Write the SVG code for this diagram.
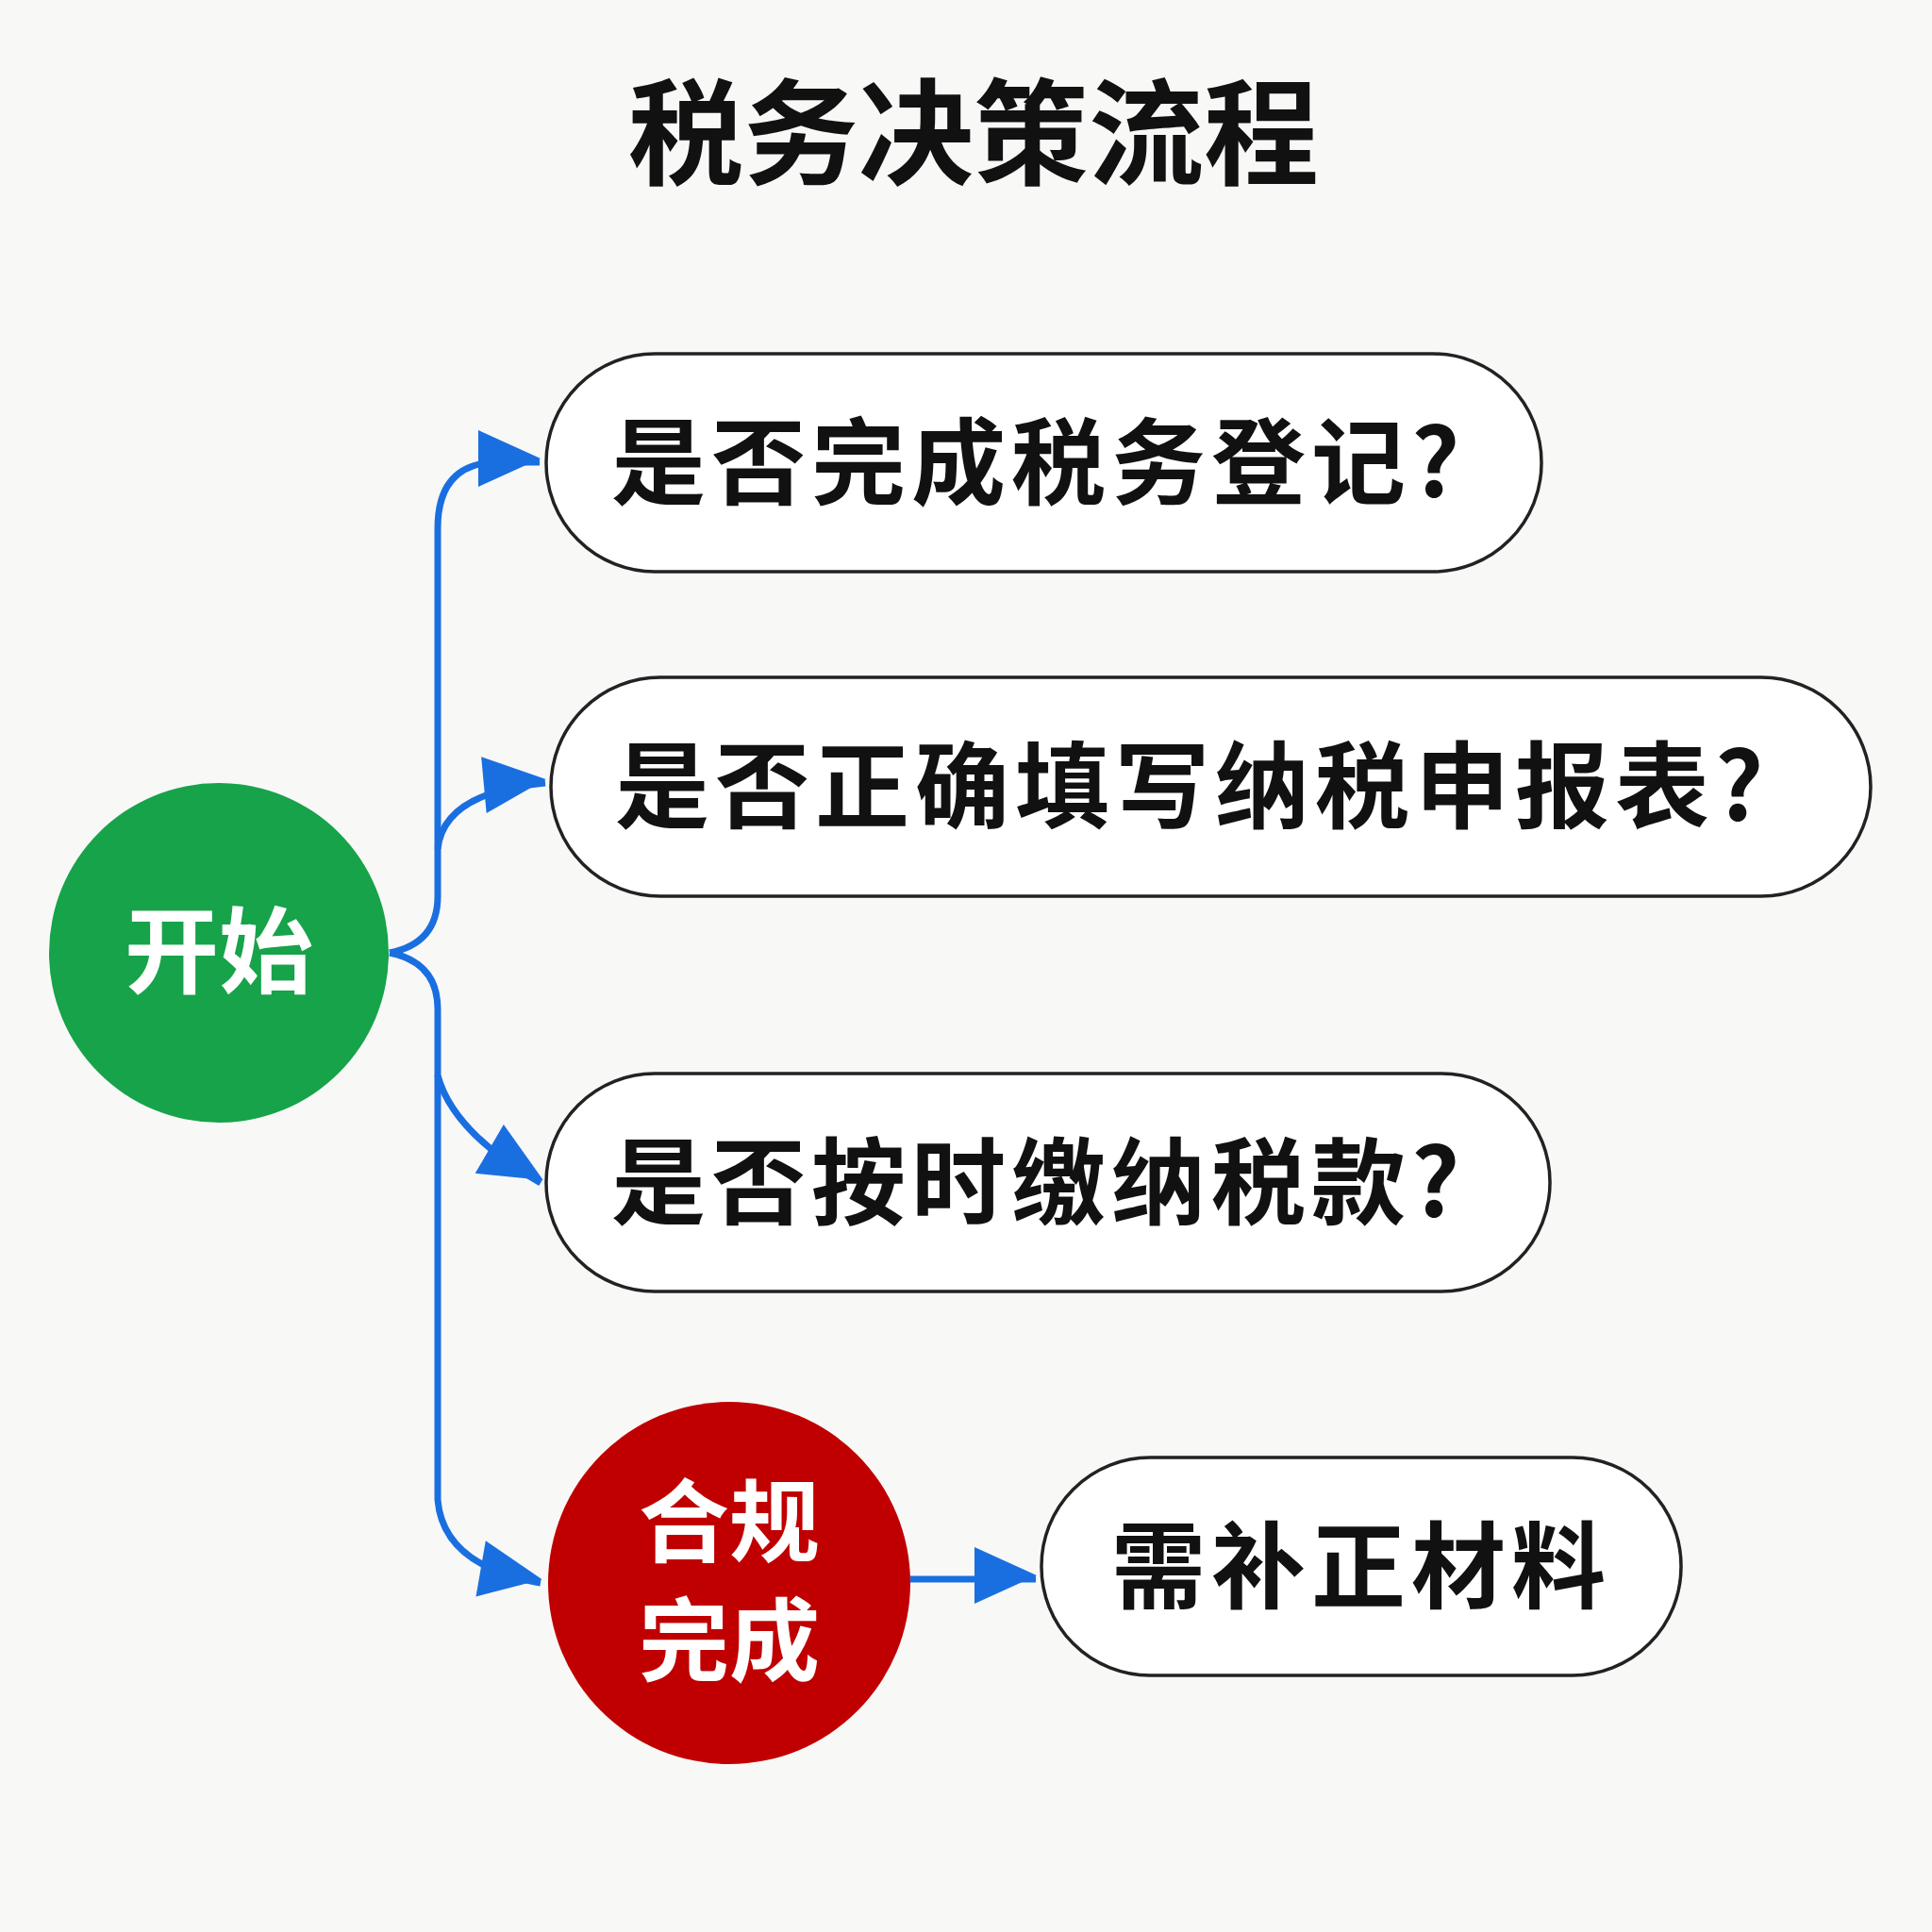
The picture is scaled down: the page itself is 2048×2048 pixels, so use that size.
<svg xmlns="http://www.w3.org/2000/svg" width="2048" height="2048" viewBox="0 0 2048 2048">
<style>
.pill{fill:#fff;stroke:#222;stroke-width:3.5}
.t{font-family:"Noto Sans CJK SC","Noto Sans",sans-serif;font-weight:bold;fill:#111}
.q{letter-spacing:6px}
.c{fill:none;stroke:#1a6fe0;stroke-width:7}
</style>
<defs><marker id="a" markerWidth="8" markerHeight="8" refX="7" refY="4" orient="auto" markerUnits="userSpaceOnUse" viewBox="0 0 8 8" style="overflow:visible"><path d="M-58,-26 L8,4 L-58,34 Z" transform="translate(0,-4)" fill="#1a6fe0"/></marker></defs>
<rect width="2048" height="2048" fill="#f8f8f7"/>
<text class="t" x="1032" y="186" font-size="122" text-anchor="middle">税务决策流程</text>
<g id="connectors">
<path class="c" d="M413,1010 Q464,1000 464,950 L464,560 Q464,495 520,490 L572,490" marker-end="url(#a)"/>
<path class="c" d="M464,900 Q470,840 578,830" marker-end="url(#a)"/>
<path class="c" d="M413,1010 Q464,1020 464,1070 L464,1140 Q480,1200 573,1254" marker-end="url(#a)"/>
<path class="c" d="M464,1140 L464,1590 Q470,1660 573,1678" marker-end="url(#a)"/>
<path class="c" d="M965,1674 L1098,1674" marker-end="url(#a)"/>
</g>
<g id="start"><circle cx="232" cy="1010" r="180" fill="#16a34a"/><text class="t" x="232" y="1045" font-size="100" text-anchor="middle" style="fill:#fff">开始</text></g>
<g id="q1"><rect class="pill" x="579" y="375" width="1055" height="231" rx="115"/><text class="t q" x="648" y="527" font-size="100">是否完成税务登记?</text></g>
<g id="q2"><rect class="pill" x="584" y="718" width="1399" height="232" rx="116"/><text class="t q" x="652" y="870" font-size="100">是否正确填写纳税申报表?</text></g>
<g id="q3"><rect class="pill" x="579" y="1138" width="1064" height="231" rx="115"/><text class="t q" x="648" y="1290" font-size="100">是否按时缴纳税款?</text></g>
<g id="done"><circle cx="773" cy="1678" r="192" fill="#c00000"/><text class="t" x="773" y="1648" font-size="96" text-anchor="middle" style="fill:#fff">合规</text><text class="t" x="773" y="1774" font-size="96" text-anchor="middle" style="fill:#fff">完成</text></g>
<g id="fix"><rect class="pill" x="1104" y="1545" width="678" height="231" rx="115"/><text class="t q" x="1443" y="1697" font-size="100" text-anchor="middle">需补正材料</text></g>
</svg>
